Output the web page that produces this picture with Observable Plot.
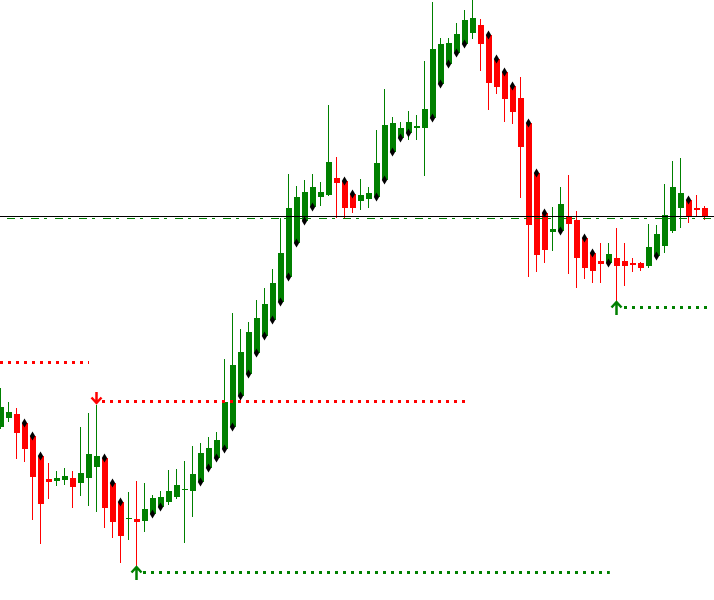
<!DOCTYPE html>
<html>
<head>
<meta charset="utf-8">
<script src="https://cdn.jsdelivr.net/npm/d3@7"></script>
<script src="https://cdn.jsdelivr.net/npm/@observablehq/plot@0.6"></script>
<style>
html, body { margin: 0; padding: 0; background: #fff; overflow: hidden; }
svg { display: block; }
</style>
</head>
<body>
<div id="chart"></div>
<script>
// Price values (chart units) for each bar
const open  = [173,182,186,177,164,144,121,119,120,122,117,122,133,142,117,98,81,81,79,86,93,98,103,110,109,118,132,142,151,173,204,226,247,264,280,298,323,357,379,393,403,405,422,419,406,399,401,403,420,448,462,467,472,472,482,516,536,547,556,567,575,565,541,528,514,502,477,427,387,368,369,383,380,362,347,339,337,342,339,337,337,334,344,354,369,392,400,392,392];
const high  = [212,198,192,179,166,146,137,129,132,129,173,187,195,144,119,100,108,119,117,105,109,130,131,139,154,157,163,168,241,287,271,278,300,312,331,382,426,414,420,426,418,495,443,421,408,421,413,470,511,483,478,489,485,539,598,562,562,577,590,600,581,566,543,530,516,523,479,429,389,393,413,425,389,364,349,357,357,372,357,342,338,376,375,416,439,442,402,405,394];
const low   = [171,178,141,138,80,56,101,114,115,92,104,94,88,72,62,37,60,33,68,84,91,95,101,57,83,116,130,140,149,171,202,224,245,262,278,296,321,355,377,391,394,404,382,382,387,390,392,401,418,446,460,460,460,424,480,514,534,545,554,561,529,490,506,478,476,402,323,328,337,349,367,326,312,321,317,317,335,297,314,328,329,332,342,347,367,372,377,383,380];
const close = [193,188,167,151,123,96,118,122,124,113,127,146,144,92,78,64,81,78,91,102,103,109,115,110,126,147,152,160,198,235,248,268,282,296,317,347,392,403,408,413,408,438,417,392,392,405,407,437,475,477,472,478,474,491,551,556,557,566,580,582,556,517,513,501,488,453,375,345,350,371,396,376,342,332,329,336,346,334,334,335,332,353,366,385,413,407,384,390,384];

// Bars that carry a diamond marker at their open
const diamondBars = [3,4,5,13,14,15,19,20,25,26,27,28,29,30,31,32,33,34,35,36,37,38,39,43,44,47,48,49,50,51,54,55,56,57,58,61,62,63,64,66,67,68,70,73,74,76,82,86];

// Fractal arrows
const arrowBars  = [12, 17, 77];
const arrowTips  = [197, 33, 298];
const arrowDirs  = ["down", "up", "up"];

// Dotted support / resistance levels
const levelPrice = [237.5, 198.5, 27.5, 292.5];
const levelFrom  = [-0.125, 12.625, 17.75, 77.875];
const levelTo    = [11.0, 58.1, 76.1, 88.25];
const levelKind  = ["down", "down", "up", "up"];

// Horizontal lines
const solidLine = 383.5;
const dashDotLine = 381.5;

const GREEN = "#008000", RED = "#ff0000";

const candles = open.map((o, i) => ({i, o, h: high[i], l: low[i], c: close[i], up: close[i] >= o}));
const diamonds = diamondBars.map(i => candles[i]);
const arrows = arrowBars.map((i, j) => ({i, tip: arrowTips[j], dir: arrowDirs[j]}));
const levels = levelPrice.map((p, j) => ({p, from: levelFrom[j], to: levelTo[j], color: levelKind[j] === "up" ? GREEN : RED}));

// arrow glyph: shaft plus a wide chevron head
const fractalArrow = {
  draw(context, l) {
    const w = 5, h = 5.5;
    context.moveTo(0, 0);
    context.lineTo(0, -l);
    context.moveTo(-w, h - l);
    context.lineTo(0, -l);
    context.lineTo(w, h - l);
  }
};

const chart = Plot.plot({
  width: 714,
  height: 600,
  margin: 0,
  x: {domain: [-0.125, 89.125], axis: null},
  y: {domain: [0, 600], axis: null},
  color: {type: "identity"},
  style: {background: "#fff"},
  marks: [
    Plot.ruleX(candles, {x: "i", y1: "l", y2: "h", stroke: d => d.up ? GREEN : RED, strokeWidth: 1}),
    Plot.rect(candles, {
      x1: d => d.i - 0.375, x2: d => d.i + 0.375,
      y1: d => Math.min(d.o, d.c),
      y2: d => Math.max(Math.max(d.o, d.c), Math.min(d.o, d.c) + 1),
      fill: d => d.up ? GREEN : RED
    }),
    Plot.dot(diamonds, {x: "i", y: "o", symbol: "diamond", r: 2.8, fill: "#000"}),
    Plot.ruleY(levels, {y: "p", x1: "from", x2: "to", stroke: "color", strokeWidth: 3, strokeDasharray: "3 5"}),
    Plot.ruleY([solidLine], {stroke: "#000", strokeWidth: 1}),
    Plot.ruleY([dashDotLine], {stroke: GREEN, strokeWidth: 1, strokeDasharray: "8 5 3 8", strokeDashoffset: 17}),
    Plot.vector(arrows.filter(d => d.dir === "down"), {x: "i", y: "tip", length: 11, rotate: 180, anchor: "end", shape: fractalArrow, stroke: RED, strokeWidth: 2.5, strokeLinejoin: "miter", strokeLinecap: "butt"}),
    Plot.vector(arrows.filter(d => d.dir === "up"), {x: "i", y: "tip", length: 13, rotate: 0, anchor: "end", shape: fractalArrow, stroke: GREEN, strokeWidth: 2.5, strokeLinejoin: "miter", strokeLinecap: "butt"})
  ]
});

// pixel alignment of each mark layer (wicks sit left of bar centre, like the terminal draws them)
const shifts = ["translate(-0.5,0)", "translate(0,0)", "translate(-0.5,0)", "translate(0,0)", "translate(0,0)", "translate(0,0)", "translate(-0.5,0)", "translate(-0.5,0)"];
const groups = Array.from(chart.children).filter(el => el.tagName.toLowerCase() === "g");
groups.forEach((g, j) => { if (shifts[j]) g.setAttribute("transform", shifts[j]); });

document.getElementById("chart").appendChild(chart);
</script>
</body>
</html>
